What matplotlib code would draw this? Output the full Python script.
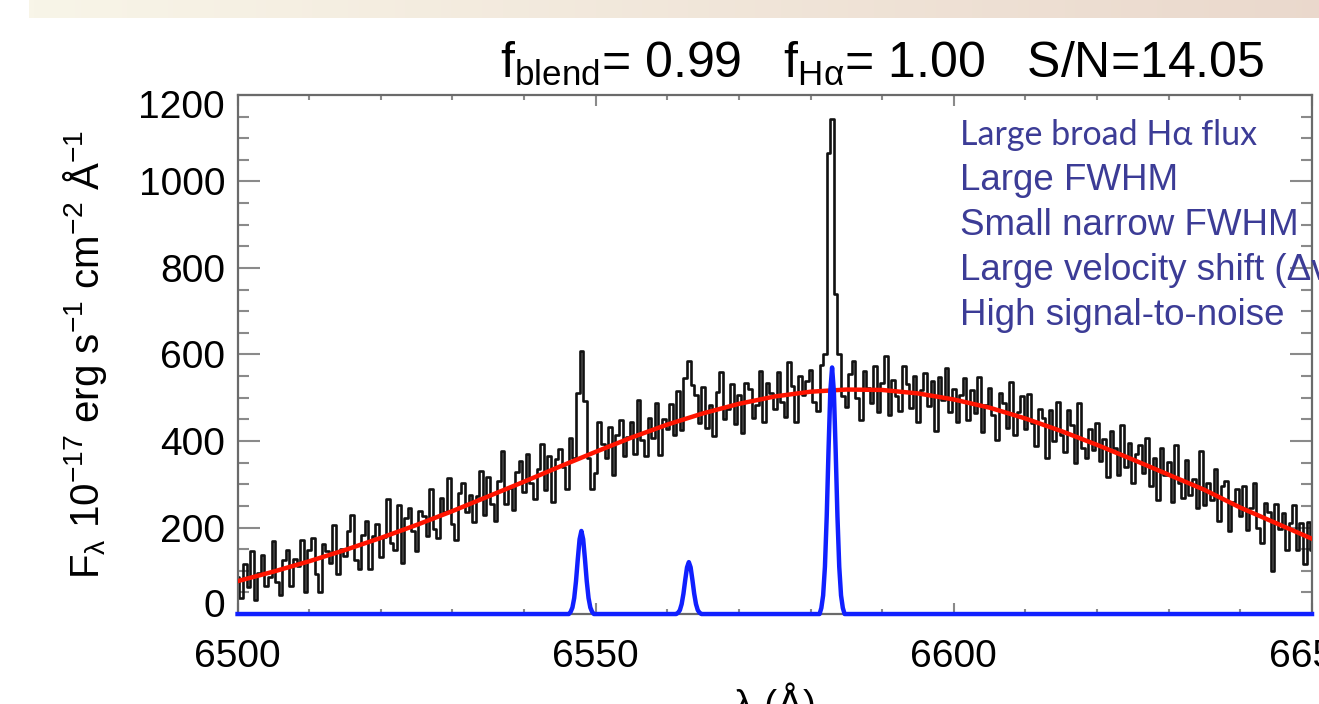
import matplotlib.pyplot as plt
from matplotlib.transforms import ScaledTranslation
import numpy as np

plt.rcParams['font.family'] = ['Liberation Sans', 'DejaVu Sans']
plt.rcParams['mathtext.fontset'] = 'custom'
plt.rcParams['mathtext.rm'] = 'Liberation Sans'
plt.rcParams['mathtext.it'] = 'Liberation Sans:italic'
plt.rcParams['mathtext.default'] = 'regular'

# observed spectrum, 0.5 A sampling from 6500 to 6650
wave = np.arange(6500, 6650.25, 0.5)
flux = [
    86, 38, 115, 63, 145, 32, 94, 136, 64, 86,
    168, 75, 43, 125, 148, 65, 127, 110, 172, 50,
    147, 175, 92, 50, 162, 145, 118, 205, 93, 150,
    133, 191, 229, 126, 104, 182, 215, 103, 180, 208,
    131, 179, 267, 165, 148, 251, 119, 222, 245, 193,
    146, 239, 227, 181, 289, 197, 175, 268, 237, 315,
    208, 171, 280, 303, 237, 275, 213, 272, 330, 229,
    317, 255, 214, 307, 376, 254, 292, 241, 329, 353,
    281, 370, 303, 267, 335, 394, 287, 366, 259, 358,
    381, 339, 288, 406, 360, 510, 608, 492, 360, 290,
    325, 443, 392, 360, 433, 322, 415, 448, 366, 410,
    443, 371, 494, 402, 365, 453, 406, 489, 367, 450,
    428, 486, 413, 516, 426, 545, 584, 530, 507, 441,
    524, 431, 483, 411, 513, 560, 452, 474, 532, 439,
    506, 418, 534, 521, 453, 484, 561, 443, 535, 511,
    473, 559, 490, 456, 582, 528, 445, 551, 507, 538,
    564, 490, 470, 576, 600, 1066, 1144, 740, 600, 504,
    479, 554, 584, 499, 449, 563, 523, 488, 573, 468,
    533, 597, 461, 541, 505, 469, 573, 532, 477, 551,
    445, 519, 557, 481, 539, 423, 547, 495, 569, 467,
    521, 444, 507, 545, 448, 517, 465, 548, 421, 484,
    522, 460, 402, 510, 487, 430, 537, 415, 467, 505,
    427, 509, 441, 388, 475, 453, 360, 472, 399, 491,
    413, 375, 472, 438, 350, 487, 384, 361, 427, 379,
    441, 353, 404, 316, 422, 384, 321, 437, 339, 395,
    302, 369, 390, 327, 408, 295, 361, 263, 384, 321,
    352, 259, 390, 302, 268, 355, 276, 313, 244, 376,
    252, 303, 264, 335, 216, 297, 307, 193, 259, 290,
    226, 297, 194, 245, 302, 198, 164, 256, 237, 100,
    255, 196, 233, 149, 211, 252, 148, 210, 116, 213,
    149,
]

# broad component fit, every 5 A
fit_wave = np.arange(6500, 6651, 5)
fit_flux = [76, 98, 122, 148, 176, 206, 238, 272, 306, 341, 375, 408, 438,
            464, 486, 503, 514, 519, 518, 510, 496, 477, 452, 423, 391, 357,
            322, 287, 246, 210, 174]

# narrow components ([NII] 6548, Halpha, [NII] 6583), 0.25 A steps
nii_a_wave = np.arange(6546.25, 6549.8, 0.25)
nii_a_flux = [0, 5, 15, 37, 76, 127, 173, 192, 173, 127, 76, 37, 15, 5, 0]
ha_wave = np.arange(6561.25, 6564.8, 0.25)
ha_flux = [0, 3, 9, 23, 47, 79, 108, 120, 108, 79, 47, 23, 9, 3, 0]
nii_b_wave = np.arange(6581.25, 6584.8, 0.25)
nii_b_flux = [0, 14, 43, 109, 225, 377, 514, 570, 514, 377, 225, 109, 43, 14, 0]

notes = ["Large FWHM", "Small narrow FWHM",
         "Large velocity shift (\u0394v)", "High signal-to-noise"]

fig = plt.figure(figsize=(13.19, 7.04), dpi=100)

# slide header band
band = fig.add_axes([29 / 1319, 1 - 18 / 704, 1, 18 / 704])
grad = np.linspace(0, 1, 256)
c0 = np.array([248, 245, 232]) / 255
c1 = np.array([234, 216, 204]) / 255
band.imshow((c0 + (c1 - c0) * grad[:, None])[None, :, :], aspect='auto')
band.axis('off')

ax = fig.add_axes([0.1801, 0.1278, 0.8146, 0.7373])
ax.plot(wave, flux, color='#111111', lw=1.9, drawstyle='steps-mid', zorder=2)
ax.plot(fit_wave, fit_flux, color='#ff1400', lw=3.2, zorder=3)
bw = np.concatenate([[6500], nii_a_wave, ha_wave, nii_b_wave, [6650]])
bf = np.concatenate([[0], nii_a_flux, ha_flux, nii_b_flux, [0]])
ax.plot(bw, bf, color='#1020ff', lw=3.2, zorder=4, clip_on=False)

ax.set_xlim(6500, 6650)
ax.set_ylim(0, 1200)
ax.set_xticks([6500, 6550, 6600, 6650])
ax.set_xticks(np.arange(6500, 6651, 10), minor=True)
ax.set_yticks(np.arange(0, 1201, 200))
ax.set_yticks(np.arange(0, 1201, 50), minor=True)
ax.tick_params(which='both', direction='in', top=True, right=True,
               color='#8a8a8a', width=1.5, labelsize=28)
ax.tick_params(axis='y', which='major', length=16, pad=9)
ax.tick_params(axis='y', which='minor', length=8)
ax.tick_params(axis='x', which='major', length=8, pad=18)
ax.tick_params(axis='x', which='minor', length=3.5)
for s in ax.spines.values():
    s.set_color('#6a6a6a')
    s.set_linewidth(1.6)

# end labels pulled inside the frame, as in the original
ylabs = ax.get_yticklabels()
ylabs[0].set_transform(ylabs[0].get_transform()
                       + ScaledTranslation(0, 11 / 100, fig.dpi_scale_trans))
ylabs[-1].set_transform(ylabs[-1].get_transform()
                        + ScaledTranslation(0, -9 / 100, fig.dpi_scale_trans))

ax.set_xlabel('\u03bb (\u00c5)', fontsize=28, va='top')
ax.xaxis.set_label_coords(0.5, -0.132)

fig.text(0.0644, 0.497,
         r'F$_\lambda$ 10$^{-17}$ erg s$^{-1}$ cm$^{-2}$ $\AA^{-1}$',
         rotation=90, fontsize=29, ha='center', va='center')
fig.text(0.669, 1 - 78 / 704,
         r'f$_{blend}$= 0.99   f$_{H\alpha}$= 1.00   S/N=14.05',
         fontsize=36, ha='center', va='baseline')

fig.text(960 / 1319, 1 - 145 / 704, 'Large broad H\u03b1 flux', family='Lato',
         fontsize=24.5, color='#3c3c96', va='baseline')
for i, t in enumerate(notes):
    fig.text(960 / 1319, 1 - (190 + 45 * i) / 704, t, fontsize=26.5,
             color='#3c3c96', va='baseline')

fig.savefig('out.png', dpi=100)
